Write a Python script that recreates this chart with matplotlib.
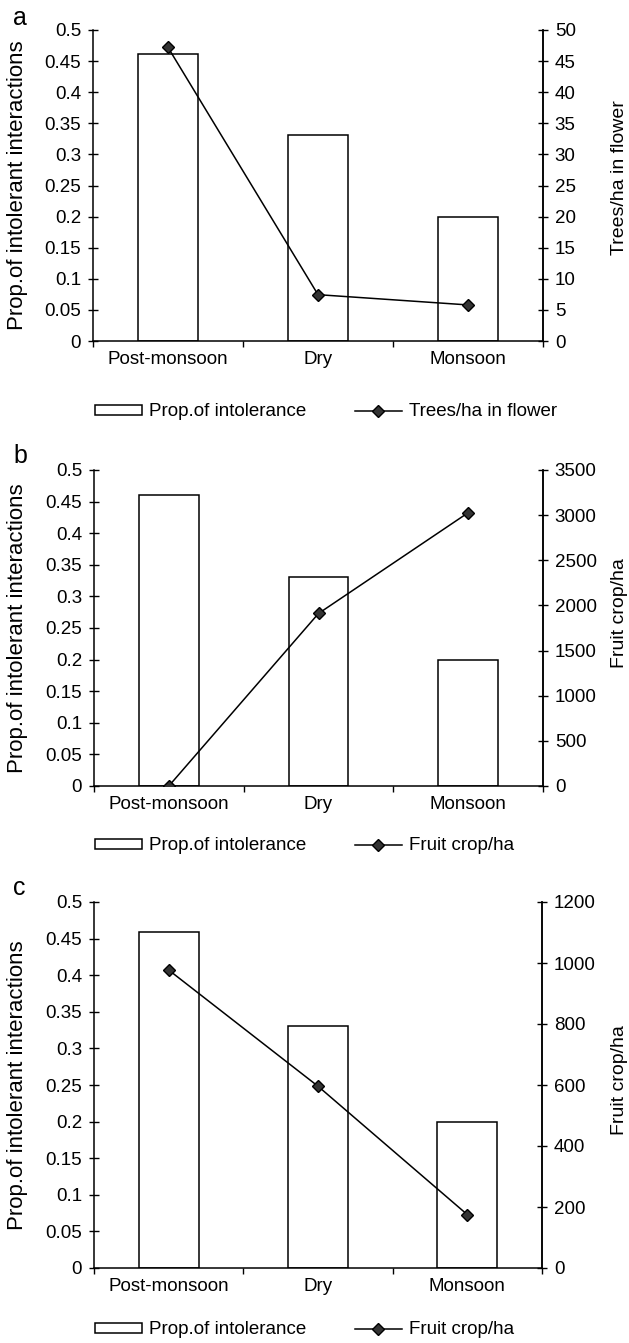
import matplotlib
matplotlib.use("Agg")
import matplotlib.pyplot as plt
from matplotlib.ticker import FuncFormatter, FixedLocator
from matplotlib.patches import Patch
from matplotlib.lines import Line2D

plt.rcParams['font.family'] = ['Liberation Sans', 'DejaVu Sans']

seasons = ["Post-monsoon", "Dry", "Monsoon"]

prop_a = [0.461, 0.331, 0.200]
trees_a = [47.2, 7.45, 5.8]

prop_b = [0.460, 0.331, 0.199]
fruit_b = [0, 1911, 3027]

prop_c = [0.459, 0.331, 0.200]
fruit_c = [977, 596, 175]

left_ticks = [0, 0.05, 0.1, 0.15, 0.2, 0.25, 0.3, 0.35, 0.4, 0.45, 0.5]
right_ticks_a = [0, 5, 10, 15, 20, 25, 30, 35, 40, 45, 50]
right_ticks_b = [0, 500, 1000, 1500, 2000, 2500, 3000, 3500]
right_ticks_c = [0, 200, 400, 600, 800, 1000, 1200]

W, H = 629, 1343
fig = plt.figure(figsize=(W / 100, H / 100), dpi=100)

FS = 13.5

panels = [
    dict(letter="a", prop=prop_a, line=trees_a, rticks=right_ticks_a,
         rlabel="Trees/ha in flower", lname="Trees/ha in flower",
         left=93, right=543, top=30, bottom=341, leg_y=412, let_y=25, rlab_y=177.5),
    dict(letter="b", prop=prop_b, line=fruit_b, rticks=right_ticks_b,
         rlabel="Fruit crop/ha", lname="Fruit crop/ha",
         left=94, right=543, top=470, bottom=786, leg_y=846, let_y=463, rlab_y=613.5),
    dict(letter="c", prop=prop_c, line=fruit_c, rticks=right_ticks_c,
         rlabel="Fruit crop/ha", lname="Fruit crop/ha",
         left=94, right=542, top=902, bottom=1268, leg_y=1330, let_y=895, rlab_y=1080),
]

fmt = FuncFormatter(lambda v, p: f"{v:g}")

for P in panels:
    ax = fig.add_axes([P["left"] / W, 1 - P["bottom"] / H,
                       (P["right"] - P["left"]) / W, (P["bottom"] - P["top"]) / H])
    x = list(range(len(seasons)))
    ax.bar(x, P["prop"], width=0.4, facecolor="white", edgecolor="black", linewidth=1.1, zorder=2)
    ax.set_xlim(-0.5, 2.5)
    ax.set_ylim(0, 0.5)
    ax.set_yticks(left_ticks)
    ax.yaxis.set_major_formatter(fmt)
    ax.tick_params(axis="y", direction="inout", length=7, width=1, pad=5, labelsize=FS)
    ax.xaxis.set_major_locator(FixedLocator([-0.5, 0.5, 1.5, 2.5]))
    ax.xaxis.set_minor_locator(FixedLocator(x))
    ax.set_xticklabels([], minor=False)
    ax.set_xticklabels(seasons, minor=True)
    ax.tick_params(axis="x", which="major", direction="out", length=4.5, width=1)
    ax.tick_params(axis="x", which="minor", length=0, pad=7.5, labelsize=FS)
    ax.spines["top"].set_visible(False)
    for s in ("left", "bottom", "right"):
        ax.spines[s].set_linewidth(1.1)

    ax2 = ax.twinx()
    ax2.plot(x, P["line"], color="black", linewidth=1.1, marker="D", markersize=6,
             markerfacecolor="#333333", markeredgecolor="black", zorder=3)
    ax2.set_ylim(P["rticks"][0], P["rticks"][-1])
    ax2.set_yticks(P["rticks"])
    ax2.yaxis.set_major_formatter(fmt)
    ax2.tick_params(axis="y", direction="inout", length=7, width=1, pad=5, labelsize=FS)
    ax2.spines["top"].set_visible(False)
    ax2.spines["right"].set_linewidth(1.1)
    ax2.spines["left"].set_visible(False)
    ax2.spines["bottom"].set_visible(False)

    # axis labels
    fig.text(18 / W, 1 - ((P["top"] + P["bottom"]) / 2) / H,
             "Prop.of intolerant interactions", rotation=90,
             ha="center", va="center", fontsize=16)
    fig.text(619.5 / W, 1 - P["rlab_y"] / H, P["rlabel"], rotation=90,
             ha="center", va="center", fontsize=14)

    # panel letter
    fig.text(13 / W, 1 - P["let_y"] / H, P["letter"], ha="left", va="baseline", fontsize=18)

    # legend
    handles = [Patch(facecolor="white", edgecolor="black", linewidth=1.1),
               Line2D([], [], color="black", linewidth=1.1, marker="D", markersize=6,
                      markerfacecolor="#333333", markeredgecolor="black")]
    fig.legend(handles, ["Prop.of intolerance", P["lname"]],
               loc="center left", bbox_to_anchor=(95 / W, 1 - P["leg_y"] / H),
               ncol=2, frameon=False, fontsize=FS, borderpad=0, borderaxespad=0,
               handlelength=2.5, handleheight=0.5, handletextpad=0.37,
               columnspacing=2.6)

fig.savefig("out.png", dpi=100)
